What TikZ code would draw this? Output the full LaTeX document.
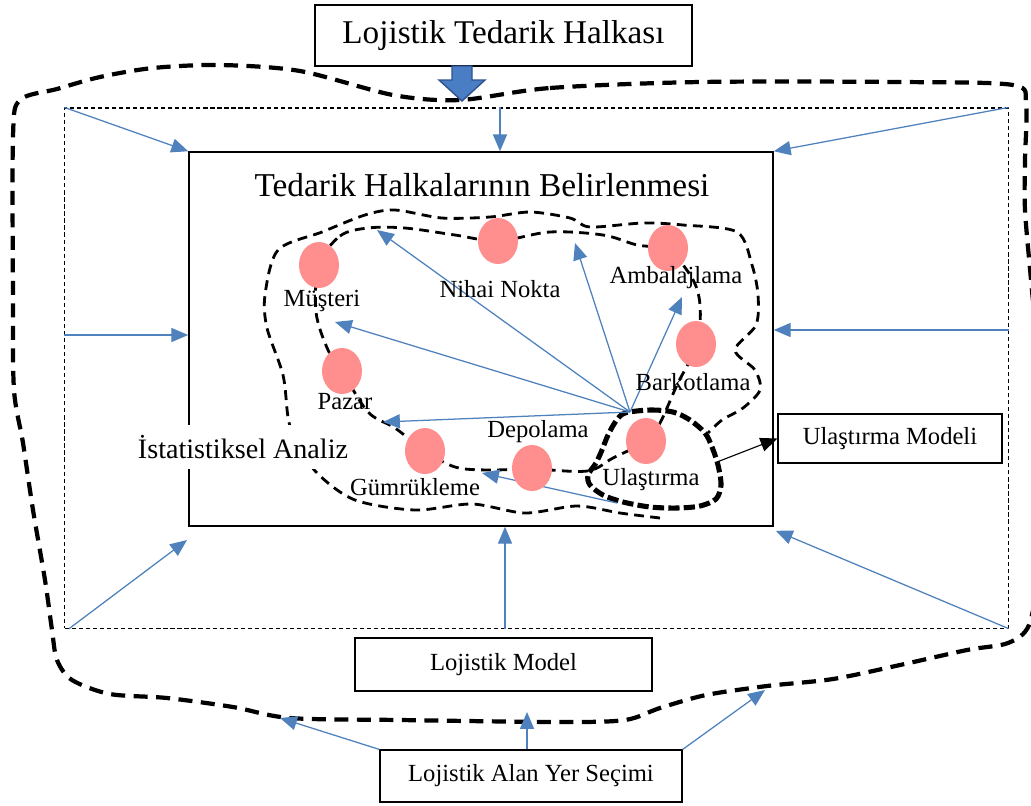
\documentclass[tikz,border=0pt]{standalone}
\usepackage{fontspec}
\setmainfont{Liberation Serif}
\usetikzlibrary{positioning,arrows.meta,calc,shapes.geometric}
\definecolor{linkblue}{HTML}{4F81BD}
\definecolor{blockblue}{HTML}{4A7EC4}
\definecolor{blockdark}{HTML}{2F528F}
\definecolor{spotpink}{HTML}{FF8F8F}

\begin{document}
\begin{tikzpicture}[x=0.025cm, y=-0.025cm, >={Triangle[length=12pt,width=10pt]},
    every node/.style={font=\fontsize{17.5}{20}\selectfont},
    box/.style={draw, line width=0.8pt, inner sep=0pt},
    spot/.style={ellipse, fill=spotpink, minimum width=1cm, minimum height=1.15cm, inner sep=0pt},
    feed/.style={->, linkblue, line width=0.9pt},
    ring/.style={line width=2pt, dash pattern=on 7pt off 4.5pt}]
        \useasboundingbox (0,0) rectangle (1031,805);
        \clip (0,0) rectangle (1031,805);
        % outer supply ring
        \draw[line width=3pt, dash pattern=on 10pt off 6pt] plot[smooth cycle, tension=0.5] coordinates {
          (460,100) (550,88) (700,82) (900,82) (1013,85) (1026,104) (1025,160) (1025,210)
          (1031,280) (1038,360) (1040,470) (1038,570) (1029,625) (1008,643) (967,650) (900,665)
          (833,679) (767,686) (706,695) (660,708) (625,720) (560,722) (400,720) (290,718)
          (233,707) (167,698) (110,694) (72,680) (57,660) (52,630) (45,580) (33,510)
          (23,443) (14,390) (13,300) (13,136) (20,100) (57,89) (100,77) (153,68) (220,65)
          (300,71) (393,95)};
        % frames
        \node[draw, line width=0.8pt, dash pattern=on 3pt off 2pt, minimum width=23.575cm, minimum height=13cm] (zone) at (536.5,368) {};
        \node[draw, line width=1pt, minimum width=14.6cm, minimum height=9.35cm] (frame) at (481,339) {};
        \node[font=\fontsize{23.7}{28}\selectfont] (title) at (482,185) {Tedarik Halkalarının Belirlenmesi};
        % feeds into the frame
        \coordinate (sw) at (187,540);
        \draw[feed] (zone.north west) -- (frame.north west);
        \draw[feed] (zone.north -| 500,0) -- (frame.north -| 500,0);
        \draw[feed] (zone.north east) -- (frame.north east);
        \draw[feed] (zone.west |- 0,335) -- (frame.west |- 0,335);
        \draw[feed] (zone.east |- 0,330) -- (frame.east |- 0,330);
        \draw[feed] ([xshift=0.12cm]zone.south west) -- (sw);
        \draw[feed] (zone.south -| 505,0) -- (frame.south -| 505,0);
        \draw[feed] (zone.south east) -- ([xshift=0.05cm,yshift=-0.1cm]frame.south east);
        % links
        \draw[ring] plot[smooth cycle, tension=0.55] coordinates {
          (319,265) (340,236) (368,228) (405,228) (455,235) (498,241) (550,232) (603,235)
          (637,245) (668,250) (692,278) (700,305) (697,344) (677,385) (660,423) (646,441)
          (613,458) (587,471) (532,469) (488,470) (455,467) (425,451) (395,428) (368,412)
          (342,371) (328,350) (316,312)};
        \draw[ring] plot[smooth, tension=0.5] coordinates {
          (660,518) (620,513) (577,506) (525,513) (472,504) (415,510) (355,500) (317,473)
          (295,440) (288,417) (283,375) (267,328) (265,295) (278,250) (322,232) (365,215)
          (395,210) (442,218) (490,217) (530,212) (570,218) (590,227) (643,223) (683,225)
          (737,232) (752,265) (758,295) (756,325) (735,350) (755,370) (760,390) (743,408)
          (722,420) (708,433)};
        \draw[line width=3.6pt, dash pattern=on 8pt off 3pt] plot[smooth cycle, tension=0.5] coordinates {
          (625,413) (650,410) (673,412) (690,420) (705,433) (712,447) (718,465) (721,485)
          (716,499) (700,506) (677,508) (650,507) (623,502) (603,495) (590,485) (588,475)
          (596,463) (602,450) (608,435) (616,421)};
        % links inside the ring
        \coordinate (hub) at (630,412);
        \coordinate (t1) at (377,230);
        \coordinate (t2) at (335,322);
        \coordinate (t3) at (383,422);
        \coordinate (t4) at (575,243);
        \coordinate (t5) at (682,297);
        \coordinate (gs) at (617,503);
        \coordinate (t6) at (482,473);
        \foreach \t in {t1,t2,t3,t4,t5}{
          \draw[feed] (hub) -- (\t);
        }
        \draw[feed] (gs) -- (t6);
        % spots
        \node[spot] (mus) at (319,265) {};
        \node[spot] (nih) at (498,241) {};
        \node[spot] (amb) at (668,248) {};
        \node[spot] (bar) at (696,344) {};
        \node[spot] (paz) at (342,371) {};
        \node[spot] (gum) at (425,451) {};
        \node[spot] (dep) at (532,468) {};
        \node[spot] (ula) at (646,441) {};
        \node (lmus) at (322,301) {Müşteri};
        \node (lnih) at (500,289) {Nihai Nokta};
        \node (lamb) at (676,278) {Ambalajlama};
        \node (lbar) at (693,382) {Barkotlama};
        \node (lpaz) at (345,402) {Pazar};
        \node (lgum) at (415,487) {Gümrükleme};
        \node (ldep) at (538,432) {Depolama};
        \node (lula) at (651,480) {Ulaştırma};
        \node[fill=white, inner sep=2pt, minimum height=1.1cm, font=\fontsize{20}{24}\selectfont] (stat) at (243,447) {İstatistiksel Analiz};
        % boxes
        \node[box, minimum width=5.6cm, minimum height=1.225cm] (tmodel) at (890,438.5) {Ulaştırma Modeli};
        \coordinate (ulaout) at (717,462);
        \draw[->, line width=0.8pt] (ulaout) -- (tmodel.west);
        \node[box, minimum width=7.425cm, minimum height=1.325cm] (lmodel) at (503.5,664.5) {Lojistik Model};
        \node[box, fill=white, minimum width=7.55cm, minimum height=1.3cm] (site) at (531,776) {Lojistik Alan Yer Seçimi};
        \coordinate (s1) at (280,718);
        \coordinate (s2) at (527,712);
        \coordinate (s3) at (765,690);
        \draw[feed] (site.north west) -- (s1);
        \draw[feed] (site.north -| 527,0) -- (s2);
        \draw[feed] (site.north east) -- (s3);
        \node[box, fill=white, minimum width=9.425cm, minimum height=1.525cm, font=\fontsize{23.6}{28}\selectfont] (chain) at (503.5,35.5) {Lojistik Tedarik Halkası};
        \fill[blockblue, draw=blockdark, line width=1pt] (452,66) -- (472,66) -- (472,80) -- (485,80)
          -- (462,101) -- (439,80) -- (452,80) -- cycle;
      \end{tikzpicture}
\end{document}
